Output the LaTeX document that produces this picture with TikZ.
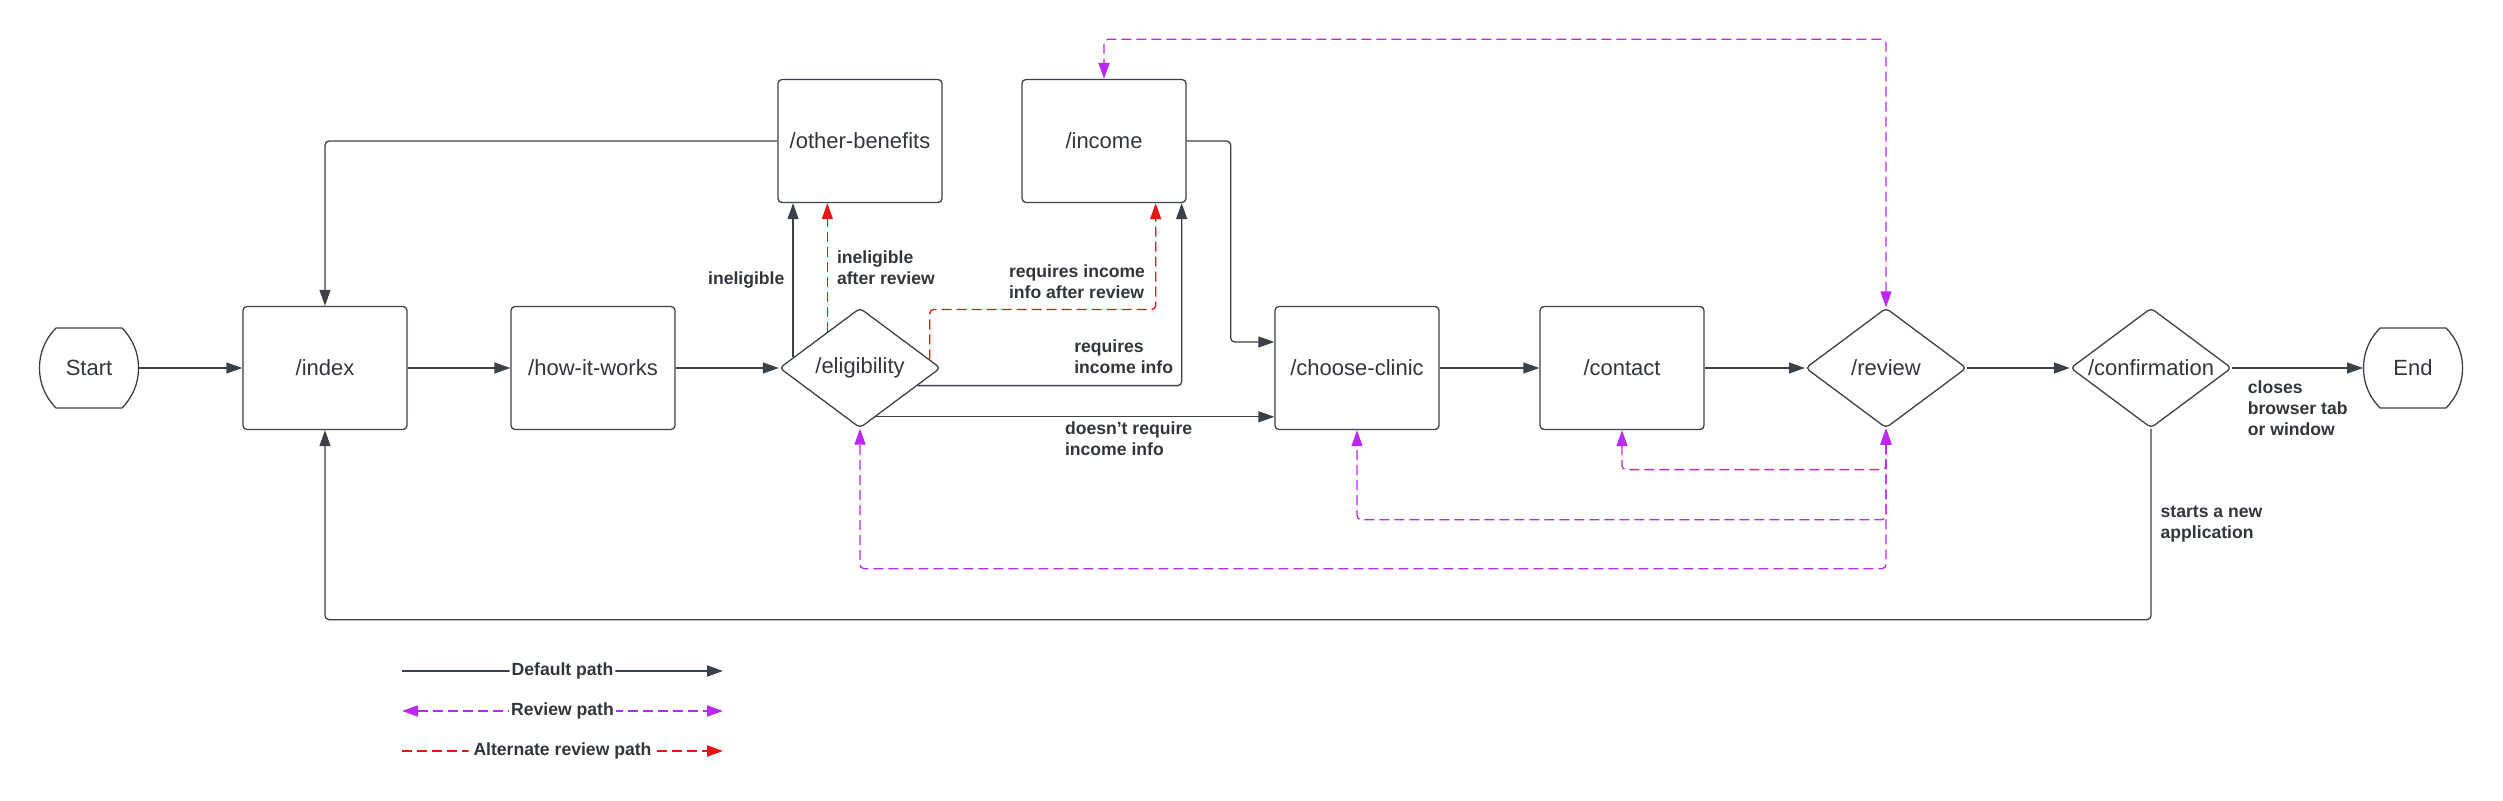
\documentclass[tikz,border=0pt]{standalone}
\usepackage{fontspec}
\setmainfont{Liberation Sans}
\usetikzlibrary{arrows.meta,positioning,shapes.geometric}

\definecolor{lineGray}{RGB}{58,65,74}
\definecolor{textGray}{RGB}{50,54,60}
\definecolor{revPurple}{RGB}{188,39,242}
\definecolor{altRed}{RGB}{232,19,19}

\tikzset{every node/.style={text=textGray, font=\fontsize{11pt}{13pt}\selectfont}}
\tikzstyle{page}=[draw=lineGray, line width=0.65pt, rounded corners=2pt, minimum width=82pt, minimum height=61.5pt, inner sep=2pt]
\tikzstyle{decision}=[diamond, aspect=1.34, draw=lineGray, line width=0.65pt, rounded corners=2pt, minimum width=80.5pt, minimum height=60pt, inner sep=0pt]
\tikzstyle{termline}=[draw=lineGray, line width=0.65pt, line join=round]
\tikzstyle{terminal}=[minimum width=50pt, minimum height=40pt, inner sep=0pt, outer sep=0pt,
    append after command={\pgfextra{\draw[termline] ([xshift=8.5pt]\tikzlastnode.north west) -- ([xshift=-8.5pt]\tikzlastnode.north east)
        arc[start angle=45, end angle=-45, radius=28.28pt] -- ([xshift=8.5pt]\tikzlastnode.south west)
        arc[start angle=225, end angle=135, radius=28.28pt] -- cycle;}}]
\tikzstyle{flow}=[draw=lineGray, line width=0.65pt, rounded corners=2pt, -{Triangle[length=8pt,width=5.5pt]}]
\tikzstyle{revpath}=[draw=revPurple, line width=0.65pt, rounded corners=2pt, dash pattern=on 5pt off 2.5pt, {Triangle[length=8pt,width=5.5pt]}-{Triangle[length=8pt,width=5.5pt]}]
\tikzstyle{altpath}=[draw=altRed, line width=0.65pt, rounded corners=2pt, dash pattern=on 5pt off 2.5pt, -{Triangle[length=8pt,width=5.5pt]}]
\tikzstyle{lbl}=[font=\bfseries\fontsize{8.8pt}{10.6pt}\selectfont, inner sep=0pt, align=left]

\begin{document}
\begin{tikzpicture}[x=0.5pt, y=-0.5pt]
            \useasboundingbox (0,0) rectangle (2503,801);

            \node [terminal] (start) at (89,368) {Start};
            \node [page] (index) at (325,368) {/index};
            \node [page] (how) at (593,368) {/how-it-works};
            \node [decision] (elig) at (860,368) {/eligibility};
            \node [page] (ben) at (860,141) {/other-benefits};
            \node [page] (inc) at (1104,141) {/income};
            \node [page] (clinic) at (1357,368) {/choose-clinic};
            \node [page] (contact) at (1622,368) {/contact};
            \node [decision] (review) at (1886,368) {/review};
            \node [decision] (confirm) at (2151,368) {/confirmation};
            \node [terminal] (finish) at (2413,368) {End};

            \draw [flow] (start) -- (index);
            \draw [flow] (index) -- (how);
            \draw [flow] (how) -- (elig);
            \draw [flow] (elig.171) -- node [lbl, pos=0.5, left=4pt] (lblInel) {ineligible} (elig.171 |- ben.south);
            \draw [altpath] (elig.132) -- node [lbl, pos=0.5, right=4.5pt] (lblInelRev) {ineligible\\after review} (elig.132 |- ben.south);
            \draw [altpath] (elig.7) -- ++(0,-50) -| node [lbl, pos=0.63, left=5pt] (lblIncRev) {requires income\\info after review} ([xshift=-15.5pt]inc.south east);
            \draw [flow] (elig.-17) -| node [lbl, pos=0.58, left=4pt] (lblInc) {requires\\income info} ([xshift=-2.5pt]inc.south east);
            \draw [flow] (elig.-72) -- node [lbl, pos=0.473, below right=2pt and 0pt] (lblNoInc) {doesn't require\\income info} (elig.-72 -| clinic.west);
            \draw [flow] (inc.east) -- ++(44,0) |- ([yshift=13pt]clinic.west);
            \draw [flow] (ben.west) -| (index.north);
            \draw [flow] (clinic) -- (contact);
            \draw [flow] (contact) -- (review);
            \draw [flow] (review) -- (confirm);
            \draw [flow] (confirm) -- node [lbl, pos=0, below right=6pt and 7.5pt] (lblClose) {closes\\browser tab\\or window} (finish);
            \draw [flow] (confirm.south) -- node [lbl, right=4.5pt] (lblNew) {starts a new\\application} ++(0,191) -| (index.south);

            \draw [revpath] (review.north) -- ++(0,-268) -| (inc.north);
            \draw [revpath] (review.south) -- ++(0,41) -| (contact.south);
            \draw [revpath] (review.south) -- ++(0,91) -| (clinic.south);
            \draw [revpath] (review.south) -- ++(0,140) -| (elig.south);

            \coordinate (lgA1) at (402,671);
            \coordinate (lgA2) at (723,671);
            \coordinate (lgB1) at (402,711);
            \coordinate (lgB2) at (723,711);
            \coordinate (lgC1) at (402,751);
            \coordinate (lgC2) at (723,751);
            \draw [flow, line width=1pt] (lgA1) -- node [lbl, fill=white, inner sep=1pt] (lgDefault) {Default path} (lgA2);
            \draw [revpath, line width=1pt] (lgB1) -- node [lbl, fill=white, inner sep=1pt] (lgReview) {Review path} (lgB2);
            \draw [altpath, line width=1pt] (lgC1) -- node [lbl, fill=white, inner sep=2.5pt] (lgAlt) {Alternate review path} (lgC2);
\end{tikzpicture}
\end{document}
